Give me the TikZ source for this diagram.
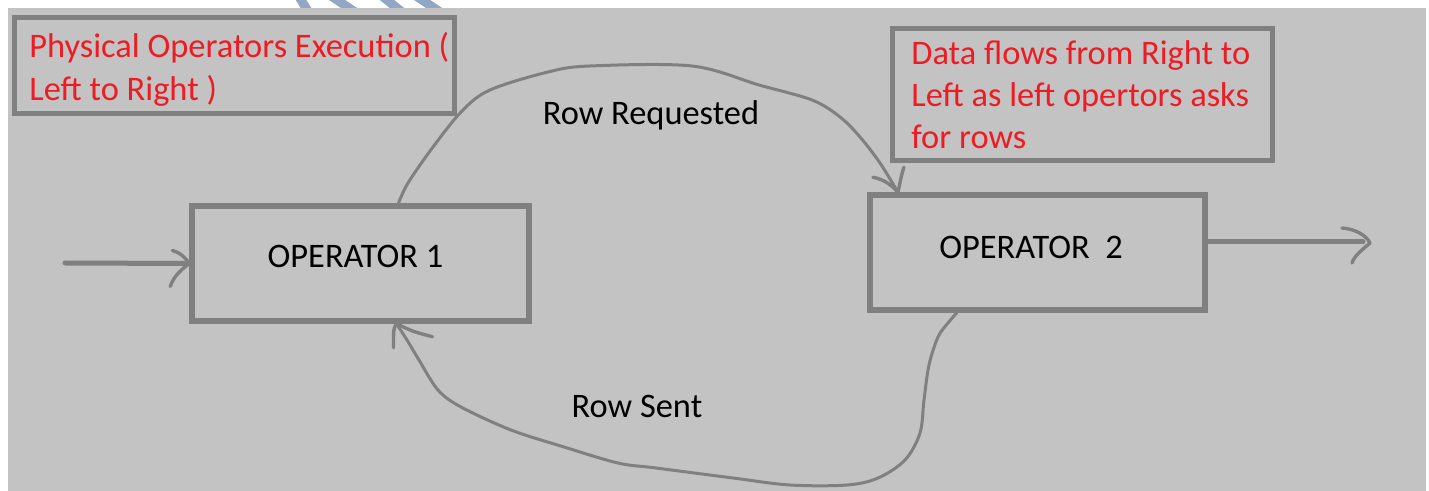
\documentclass[tikz,border=0pt]{standalone}
\usepackage{fontspec}
\setmainfont{Carlito}
\usetikzlibrary{calc}
\definecolor{bggray}{RGB}{195,195,195}
\definecolor{linegray}{RGB}{128,128,128}
\definecolor{notered}{RGB}{237,28,36}
\definecolor{stripeblue}{RGB}{145,167,196}
\begin{document}
\begin{tikzpicture}[x=0.5pt,y=-0.5pt,
  txt/.style={inner sep=0pt, font=\fontsize{17.2pt}{21pt}\selectfont},
  redtxt/.style={txt, text=notered, anchor=base west},
  blacktxt/.style={txt, text=black, anchor=base},
  boxframe/.style={draw=linegray, line width=2.75pt, inner sep=0pt, rectangle},
  flowline/.style={draw=linegray, line width=2.5pt, line cap=round},
  curveline/.style={draw=linegray, line width=1.5pt, line cap=round, line join=round},
  headstroke/.style={draw=linegray, line width=1.7pt, line cap=round, line join=round},
  stripe/.style={draw=stripeblue, line width=4.5pt}
]
\useasboundingbox (0,0) rectangle (1429,491);
% stripes on the white margin
\draw[stripe] (296,-8) -- (311,16);
\draw[stripe] (325,-8) -- (361,16);
\draw[stripe] (377,-8) -- (407,16);
\draw[stripe] (410,-8) -- (446,16);
% background
\fill[bggray] (8,8) rectangle (1426,491);

% boxes
\node[boxframe, minimum width=220pt, minimum height=48pt] (note1) at (234.5,65.5) {};
\node[boxframe, minimum width=190pt, minimum height=66pt] (note2) at (1082.5,94.5) {};
\node[boxframe, minimum width=168.5pt, minimum height=57.5pt] (op1) at (360.5,263.5) {};
\node[boxframe, minimum width=167.5pt, minimum height=57.5pt] (op2) at (1037.5,252.5) {};

% texts
\node[redtxt] (n1a) at (29,58) {Physical Operators Execution (};
\node[redtxt] (n1b) at (29,101) {Left to Right )};
\node[redtxt] (n2a) at (911,65) {Data flows from Right to};
\node[redtxt] (n2b) at (911,107) {Left as left opertors asks};
\node[redtxt] (n2c) at (911,149) {for rows};
\node[blacktxt] (op1t) at (355.5,268) {OPERATOR 1};
\node[blacktxt] (op2t) at (1031,259) {OPERATOR\ \ 2};
\node[blacktxt] (rq) at (651,125) {Row Requested};
\node[blacktxt] (rs) at (637,417) {Row Sent};

% input arrow
\coordinate (inS) at (65,263);
\draw[flowline] (inS) -- (op1.west);
\draw[headstroke] ([shift={(-17,-13)}]op1.west) .. controls ([shift={(-9,-11)}]op1.west) and ([shift={(-3,-5)}]op1.west) .. (op1.west)
  .. controls ([shift={(-6,5)}]op1.west) and ([shift={(-15,11)}]op1.west) .. ([shift={(-19,23)}]op1.west);

% output arrow
\coordinate (outE) at (1363,242);
\coordinate (outT) at (1370,243);
\draw[flowline] (op2.east |- outE) -- (outE);
\draw[headstroke] ([shift={(-28,-15)}]outT) .. controls ([shift={(-15,-14)}]outT) and ([shift={(-4,-8)}]outT) .. (outT)
  .. controls ([shift={(-8,7)}]outT) and ([shift={(-16,13)}]outT) .. ([shift={(-18,20)}]outT);

% Row Requested curve
\coordinate (rqs) at ($(op1.north west)!0.611!(op1.north east)$);
\coordinate (rqe) at ($(op2.north west)!0.09!(op2.north east)$);
\draw[curveline] plot[smooth, tension=0.55] coordinates {(rqs) (408,183) (433,147) (462,111) (490,90) (548,72) (590,66) (692,66) (759,85) (812,100) (840,117) (860,137) (880,163) (rqe)};
\draw[headstroke] ([shift={(-25,-15)}]rqe) .. controls ([shift={(-14,-13)}]rqe) and ([shift={(-6,-7)}]rqe) .. (rqe);
\draw[headstroke] ([shift={(6,-25)}]rqe) .. controls ([shift={(3,-16)}]rqe) and ([shift={(2,-8)}]rqe) .. (rqe);

% Row Sent curve
\coordinate (rss) at ($(op2.south west)!0.263!(op2.south east)$);
\coordinate (rse) at ($(op1.south west)!0.605!(op1.south east)$);
\draw[curveline] plot[smooth, tension=0.55] coordinates {(rss) (948,323) (938,337) (929,365) (924,400) (920,433) (905,460) (878,478) (847,485) (790,485) (733,478) (656,468) (618,463) (564,447) (511,430) (461,407) (438,390) (419,360) (407,340) (rse)};
\draw[headstroke] (rse) .. controls ([shift={(-3,5)}]rse) .. ([shift={(-3,24)}]rse);
\draw[headstroke] (rse) .. controls ([shift={(17,8)}]rse) .. ([shift={(36,13)}]rse);
\end{tikzpicture}
\end{document}
